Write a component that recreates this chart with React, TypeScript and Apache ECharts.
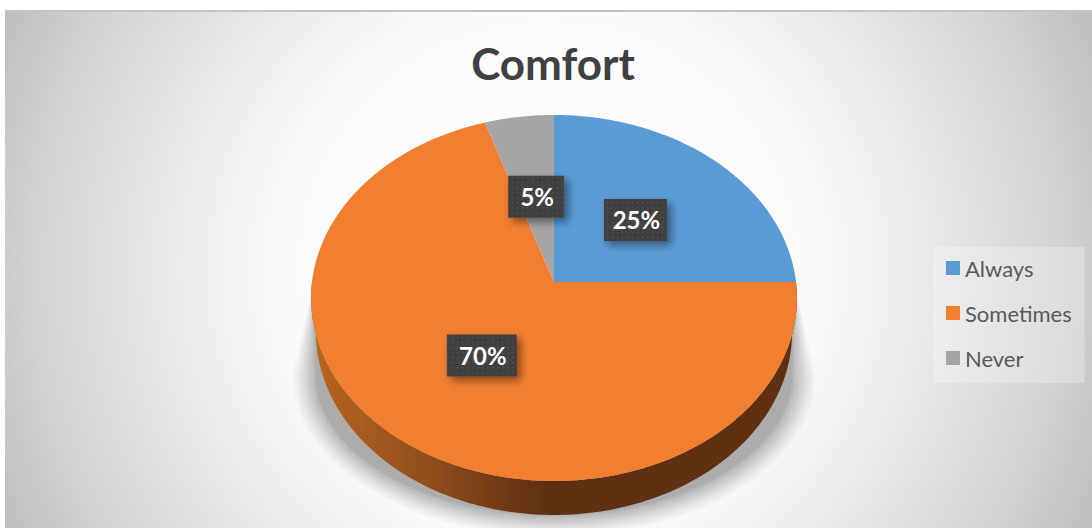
import React, { useEffect, useRef } from "react";
import * as echarts from "echarts";

const chartTitle = "Comfort";
const categories = ["Always", "Sometimes", "Never"];
const shares = [25, 70, 5];
const sliceColors = ["#5B9BD5", "#F27F30", "#A5A5A5"];
const labelBoxWidths = [63, 70, 56];

// Disc seen in perspective: radii, centre and foreshortening of the top face
const CX = 554;
const CY = 282;
const RX = 242;
const RY = 181.6;
const TILT = 0.0874;
const DEPTH = 34;
const RIM_NARROWING = 0.98;

// Soft ground shadow, built from stacked translucent outlines
const SHADOW_LAYERS = 22;
const SHADOW_SPREAD = 24;
const SHADOW_CENTRE_Y = 375;
const SHADOW_RY = 140;

type Pt = [number, number];

// angle in degrees, clockwise from twelve o'clock; r is a fraction of the radius
function project(angle: number, r = 1, dy = 0, sx = 1): Pt {
  const t = (angle * Math.PI) / 180;
  const u = r * Math.sin(t);
  const v = -r * Math.cos(t);
  const d = 1 - TILT * v;
  return [CX + (RX * sx * u) / d, CY + dy + (RY * v) / d];
}

function arcPoints(a0: number, a1: number, dy = 0, sx = 1): Pt[] {
  const n = Math.max(2, Math.ceil(Math.abs(a1 - a0)));
  const pts: Pt[] = [];
  for (let i = 0; i <= n; i++) pts.push(project(a0 + ((a1 - a0) * i) / n, 1, dy, sx));
  return pts;
}

function dotPattern(): HTMLCanvasElement {
  const c = document.createElement("canvas");
  c.width = 5;
  c.height = 5;
  const g = c.getContext("2d")!;
  g.fillStyle = "#404040";
  g.fillRect(0, 0, 5, 5);
  g.fillStyle = "#545454";
  g.fillRect(2, 2, 1.4, 1.4);
  return c;
}

function sliceRange(i: number): [number, number] {
  const total = shares.reduce((a, b) => a + b, 0);
  const before = shares.slice(0, i).reduce((a, b) => a + b, 0);
  return [(before / total) * 360, ((before + shares[i]) / total) * 360];
}

export default function App() {
  const ref = useRef<HTMLDivElement>(null);

  useEffect(() => {
    const chart = echarts.init(ref.current!, null, { renderer: "svg" });
    const pattern = dotPattern();
    const G = echarts.graphic;

    const renderShadow = () => {
      const children: any[] = [];
      for (let k = 0; k < SHADOW_LAYERS; k++) {
        // Layers bunch up towards the rim so the shadow thins out as it spreads
        const e = SHADOW_SPREAD * Math.pow(k / (SHADOW_LAYERS - 1), 1.5);
        const rx = 238 + e;
        const ry = SHADOW_RY + e * 0.9;
        const pts: Pt[] = [[CX - RX + 2, CY]];
        for (let a = 180; a >= 0; a -= 3) {
          const t = (a * Math.PI) / 180;
          pts.push([CX + rx * Math.cos(t), SHADOW_CENTRE_Y + ry * Math.sin(t)]);
        }
        pts.push([CX + RX - 2, CY]);
        children.push({
          type: "polygon",
          shape: { points: pts },
          style: { fill: "rgba(60,60,60,0.018)" },
        });
      }
      return { type: "group", children };
    };

    const renderSlice = (i: number) => (_p: any, api: any) => {
      const value = api.value(0);
      const [a0, a1] = sliceRange(i);
      const children: any[] = [];

      // Visible wall of the disc: only the front half of the rim shows
      const f0 = Math.max(a0, 90);
      const f1 = Math.min(a1, 270);
      if (f1 > f0) {
        const upper = arcPoints(f0, f1);
        const lower = arcPoints(f1, f0, DEPTH, RIM_NARROWING);
        children.push({
          type: "polygon",
          shape: { points: [...upper, ...lower] },
          style: {
            fill: new G.LinearGradient(
              CX - RX, 0, CX + RX, 0,
              [
                { offset: 0, color: "#B9661F" },
                { offset: 0.25, color: "#8E4C1B" },
                { offset: 0.48, color: "#5F3011" },
                { offset: 1, color: "#5F3011" },
              ],
              true
            ),
          },
        });
      }

      // Top face
      children.push({
        type: "polygon",
        shape: { points: [[CX, CY], ...arcPoints(a0, a1)] },
        style: { fill: sliceColors[i] },
      });

      // Value tag, centred half way out along the slice's middle angle
      const [lx, ly0] = project((a0 + a1) / 2, 0.49);
      const ly = ly0 - 1;
      const w = labelBoxWidths[i];
      const h = 42;
      children.push({
        type: "rect",
        z2: 20,
        shape: { x: lx - w / 2, y: ly - h / 2, width: w, height: h },
        style: {
          fill: { image: pattern, repeat: "repeat" },
          shadowBlur: 8,
          shadowOffsetX: 4,
          shadowOffsetY: 4,
          shadowColor: "rgba(0,0,0,0.45)",
        },
      });
      children.push({
        type: "text",
        z2: 21,
        x: lx + 1,
        y: ly,
        style: {
          text: `${value}%`,
          fill: "#FFFFFF",
          font: "bold 24px Lato",
          align: "center",
          verticalAlign: "middle",
        },
      });
      return { type: "group", children };
    };

    chart.setOption({
      animation: false,
      title: {
        text: chartTitle,
        left: 548,
        top: 36,
        textAlign: "center",
        textStyle: { fontFamily: "Lato", fontWeight: "bold", fontSize: 44, color: "#404040" },
      },
      legend: {
        data: categories,
        orient: "vertical",
        left: 933,
        top: 247,
        padding: [10, 13, 14, 13],
        itemWidth: 14,
        itemHeight: 14,
        itemGap: 23,
        icon: "rect",
        backgroundColor: "rgba(255,255,255,0.25)",
        selectedMode: false,
        textStyle: { fontFamily: "Lato", fontSize: 22, color: "#595959" },
      },
      graphic: [
        {
          type: "rect",
          z: -10,
          silent: true,
          shape: { x: 5, y: 11, width: 1087, height: 517 },
          style: {
            fill: new G.RadialGradient(
              548, 270, 610,
              [
                { offset: 0, color: "#FFFFFF" },
                { offset: 0.45, color: "#FAFAFA" },
                { offset: 0.85, color: "#D2D2D2" },
                { offset: 0.97, color: "#C0C0C0" },
                { offset: 1, color: "#BEBEBE" },
              ],
              true
            ),
          },
        },
        {
          type: "line",
          z: -9,
          silent: true,
          shape: { x1: 5, y1: 11, x2: 1092, y2: 11 },
          style: { stroke: "#C4C4C4", lineWidth: 2 },
        },
      ],
      series: [
        {
          type: "custom",
          coordinateSystem: "none",
          silent: true,
          z: 1,
          data: [[0]],
          renderItem: renderShadow,
        },
        ...categories.map((name, i) => ({
          type: "custom",
          name,
          coordinateSystem: "none",
          silent: true,
          z: i === 1 ? 2 : 3,
          itemStyle: { color: sliceColors[i] },
          data: [[shares[i]]],
          renderItem: renderSlice(i),
        })),
      ],
    });

    return () => chart.dispose();
  }, []);

  return (
    <div
      ref={ref}
      style={{ position: "absolute", left: 0, top: 0, width: 1092, height: 528 }}
    />
  );
}
